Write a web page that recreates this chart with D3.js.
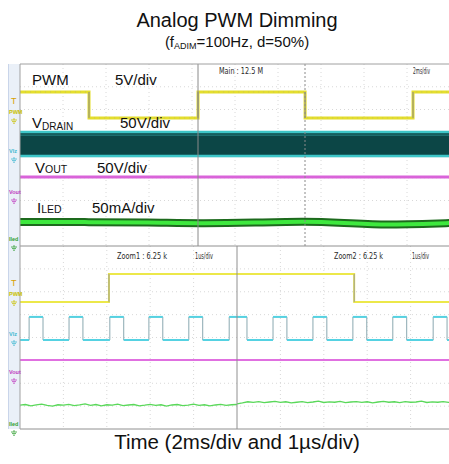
<!DOCTYPE html>
<html><head><meta charset="utf-8">
<script src="https://cdn.jsdelivr.net/npm/d3@7/dist/d3.min.js"></script>
<style>
html,body{margin:0;padding:0;background:#fff;}
svg{display:block;font-family:"Liberation Sans",Arial,sans-serif;}
</style></head>
<body>
<svg id="c" width="449" height="464"></svg>
<script>
// ---------------- DATA (values in screen divisions / ms / µs) ----------------
// Upper (main, 2 ms/div) window
const mainEdgesMs = [3.21, 8.28, 13.26, 18.28];       // PWM edges, starts high
const mainPwmLevels = [2.77, 1.63];                   // high, low (div)
const mainVdrainEnvelope = [1.05, -0.09];             // top, bottom of switching band (div)
const mainVout = -0.97;                               // div
const mainIledT = [0, 3, 6.05, 8.37, 11, 13.26, 15, 17.2, 18.8, 20];
const mainIledV = [-2.94, -2.95, -2.96, -3.01, -2.97, -2.92, -2.98, -3.08, -3.04, -2.99];

// Lower zoom windows (1 µs/div)
const zoom1PwmEdgeUs = 2.05;   // rising
const zoom2PwmEdgeUs = 2.70;   // falling
const zoomPwmLevels = [2.78, 1.55];  // high, low (div)
const zoom1DrainRise = [0.21, 1.13, 2.07, 2.97, 3.89, 4.82];
const zoom2DrainRise = [-0.09, 0.83, 1.75, 2.67, 3.59, 4.52];
const drainOnUs = 0.32;
const zoomDrainLevels = [0.9, -0.11];  // high, low (div)
const zoomVout = -0.98;
const zoom1Iled = [-2.96,-2.93,-2.99,-2.95,-2.91,-2.97,-3.0,-2.94,-2.96,-2.92,-2.98,-2.95,-2.9,-2.97,-2.93,-2.99,-2.94,-2.96,-2.91,-2.98,-2.95,-2.93,-2.99,-2.96,-2.92,-2.97,-2.94,-3.0,-2.95,-2.93,-2.98,-2.96,-2.91,-2.97,-2.94,-2.99,-2.95,-2.92,-2.97,-2.94,-2.93];
const zoom2Iled = [-2.9,-2.86,-2.81,-2.84,-2.8,-2.85,-2.82,-2.79,-2.84,-2.81,-2.86,-2.83,-2.8,-2.85,-2.82,-2.78,-2.84,-2.81,-2.83,-2.79,-2.85,-2.82,-2.8,-2.84,-2.81,-2.86,-2.82,-2.79,-2.83,-2.81,-2.85,-2.8,-2.83,-2.82,-2.78,-2.84,-2.81,-2.83,-2.8,-2.84,-2.82];

const titleText = "Analog PWM Dimming";
const xAxisTitle = "Time (2ms/div and 1µs/div)";

// ---------------- LAYOUT ----------------
const svg = d3.select("#c");
const L = 20, R = 450, T = 64, MID = 246, B = 429, ZSPLIT = 237;

const xMain = d3.scaleLinear().domain([0, 20]).range([L, R]);
const yUp = d3.scaleLinear().domain([-4, 4]).range([MID, T]);
const xZ1 = d3.scaleLinear().domain([0, 5]).range([L, ZSPLIT]);
const xZ2 = d3.scaleLinear().domain([0, 5]).range([ZSPLIT, 454]);
const yLo = d3.scaleLinear().domain([-4, 4]).range([B, MID]);

// left strip
svg.append("rect").attr("x", 8).attr("y", T).attr("width", 12).attr("height", B - T).attr("fill", "#eaf0f8");
svg.append("line").attr("x1", 8.5).attr("x2", 8.5).attr("y1", T).attr("y2", B).attr("stroke", "#c9d5ea");

// grids
const gGrid = svg.append("g").attr("stroke", "#d8d8d8").attr("stroke-dasharray", "1,3").attr("stroke-width", 1);
d3.range(1, 10).forEach(i => {
  const x = xMain(i * 2);
  gGrid.append("line").attr("x1", x).attr("x2", x).attr("y1", T).attr("y2", MID);
});
d3.range(-3, 4).forEach(d => {
  gGrid.append("line").attr("x1", L).attr("x2", R).attr("y1", yUp(d)).attr("y2", yUp(d));
  gGrid.append("line").attr("x1", L).attr("x2", R).attr("y1", yLo(d)).attr("y2", yLo(d));
});
d3.range(1, 5).forEach(i => {
  [xZ1(i), xZ2(i)].forEach(x => gGrid.append("line").attr("x1", x).attr("x2", x).attr("y1", MID).attr("y2", B));
});

// ---------- upper traces ----------
// VDRAIN band
svg.append("rect").attr("x", L).attr("width", R - L)
  .attr("y", yUp(mainVdrainEnvelope[0])).attr("height", yUp(mainVdrainEnvelope[1]) - yUp(mainVdrainEnvelope[0]))
  .attr("fill", "#0c4646");
svg.append("line").attr("x1", L).attr("x2", R).attr("y1", yUp(mainVdrainEnvelope[0]) + 1).attr("y2", yUp(mainVdrainEnvelope[0]) + 1)
  .attr("stroke", "#3ec6c8").attr("stroke-width", 2.5);
svg.append("line").attr("x1", L).attr("x2", R).attr("y1", yUp(mainVdrainEnvelope[0]) + 4).attr("y2", yUp(mainVdrainEnvelope[0]) + 4)
  .attr("stroke", "#2a8888").attr("stroke-width", 1);
svg.append("line").attr("x1", L).attr("x2", R).attr("y1", yUp(mainVdrainEnvelope[1]) - 1).attr("y2", yUp(mainVdrainEnvelope[1]) - 1)
  .attr("stroke", "#3ec6c8").attr("stroke-width", 2.5);

// PWM main
(function () {
  const pts = [[0, mainPwmLevels[0]]];
  let lvl = 0;
  mainEdgesMs.forEach(t => { pts.push([t, mainPwmLevels[lvl]]); lvl = 1 - lvl; pts.push([t, mainPwmLevels[lvl]]); });
  pts.push([20, mainPwmLevels[lvl]]);
  const line = d3.line().x(d => xMain(d[0])).y(d => yUp(d[1]));
  svg.append("path").attr("d", line(pts)).attr("fill", "none").attr("stroke", "#e4de2c").attr("stroke-width", 3);
  mainEdgesMs.forEach(t => svg.append("line").attr("x1", xMain(t)).attr("x2", xMain(t))
    .attr("y1", yUp(mainPwmLevels[0])).attr("y2", yUp(mainPwmLevels[1])).attr("stroke", "#888").attr("stroke-width", 1));
  svg.append("path").attr("d", line(pts)).attr("fill", "none").attr("stroke", "#b8b070").attr("stroke-width", 1).attr("stroke-dasharray", "1,4").attr("opacity", 0.6);
})();

// VOUT main
svg.append("line").attr("x1", L).attr("x2", R).attr("y1", yUp(mainVout)).attr("y2", yUp(mainVout))
  .attr("stroke", "#d963d9").attr("stroke-width", 3);

// ILED main band
(function () {
  const data = mainIledT.map((t, i) => [t, mainIledV[i]]);
  const line = d3.line().x(d => xMain(d[0])).y(d => yUp(d[1])).curve(d3.curveBasis);
  svg.append("path").attr("d", line(data)).attr("fill", "none").attr("stroke", "#1d6a1d").attr("stroke-width", 8);
  svg.append("path").attr("d", line(data)).attr("fill", "none").attr("stroke", "#3ee83e").attr("stroke-width", 4);
})();

// zoom markers in main window
svg.append("line").attr("x1", 198).attr("x2", 198).attr("y1", T).attr("y2", MID).attr("stroke", "#8a8a8a").attr("stroke-width", 1);
svg.append("line").attr("x1", 305).attr("x2", 305).attr("y1", T).attr("y2", MID).attr("stroke", "#8a8a8a").attr("stroke-width", 1).attr("stroke-dasharray", "2,2");

// ---------- lower traces ----------
function zoomPwm(xs, startLevel, edge) {
  const pts = [[0, zoomPwmLevels[startLevel]], [edge, zoomPwmLevels[startLevel]], [edge, zoomPwmLevels[1 - startLevel]], [5, zoomPwmLevels[1 - startLevel]]];
  const line = d3.line().x(d => xs(d[0])).y(d => yLo(d[1]));
  svg.append("path").attr("d", line(pts)).attr("fill", "none").attr("stroke", "#ece84a").attr("stroke-width", 2);
  svg.append("line").attr("x1", xs(edge)).attr("x2", xs(edge)).attr("y1", yLo(zoomPwmLevels[0])).attr("y2", yLo(zoomPwmLevels[1])).attr("stroke", "#999").attr("stroke-width", 1);
}
zoomPwm(xZ1, 1, zoom1PwmEdgeUs);
zoomPwm(xZ2, 0, zoom2PwmEdgeUs);

function zoomDrain(xs, rises) {
  const hi = zoomDrainLevels[0], lo = zoomDrainLevels[1];
  const pts = [];
  let t0 = 0;
  rises.forEach(r => {
    const a = Math.max(0, r), b = Math.min(5, r + drainOnUs);
    if (a > t0) pts.push([t0, lo], [a, lo]);
    pts.push([a, hi], [b, hi]);
    if (b < 5) pts.push([b, lo]);
    t0 = b;
  });
  if (t0 < 5) pts.push([t0, lo], [5, lo]);
  const line = d3.line().x(d => xs(d[0])).y(d => yLo(d[1]));
  svg.append("path").attr("d", line(pts)).attr("fill", "none").attr("stroke", "#8aa8b0").attr("stroke-width", 1);
  for (let i = 0; i < pts.length - 1; i++) {
    if (pts[i][1] === pts[i + 1][1] && pts[i + 1][0] > pts[i][0]) {
      svg.append("line").attr("x1", xs(pts[i][0])).attr("x2", xs(pts[i + 1][0]))
        .attr("y1", yLo(pts[i][1])).attr("y2", yLo(pts[i][1])).attr("stroke", "#55d2e2").attr("stroke-width", 2);
    }
  }
}
zoomDrain(xZ1, zoom1DrainRise);
zoomDrain(xZ2, zoom2DrainRise);

[xZ1, xZ2].forEach(xs => svg.append("line").attr("x1", xs(0)).attr("x2", xs(5)).attr("y1", yLo(zoomVout)).attr("y2", yLo(zoomVout))
  .attr("stroke", "#e070e0").attr("stroke-width", 2));

function zoomIled(xs, vals) {
  const line = d3.line().x((d, i) => xs(i * 5 / (vals.length - 1))).y(d => yLo(d));
  svg.append("path").attr("d", line(vals)).attr("fill", "none").attr("stroke", "#5ad85a").attr("stroke-width", 1.3);
}
zoomIled(xZ1, zoom1Iled);
zoomIled(xZ2, zoom2Iled);

// ---------- frame ----------
svg.append("line").attr("x1", L).attr("x2", 449).attr("y1", T).attr("y2", T).attr("stroke", "#a0a0a0");
svg.append("line").attr("x1", L).attr("x2", 449).attr("y1", MID).attr("y2", MID).attr("stroke", "#909090");
svg.append("line").attr("x1", L).attr("x2", 449).attr("y1", B).attr("y2", B).attr("stroke", "#909090");
svg.append("line").attr("x1", L).attr("x2", L).attr("y1", T).attr("y2", B).attr("stroke", "#a0a0a0");
svg.append("line").attr("x1", ZSPLIT).attr("x2", ZSPLIT).attr("y1", MID).attr("y2", B).attr("stroke", "#909090");

// ---------- scope status text ----------
const small = svg.append("g").attr("font-family", "'Liberation Sans Narrow','DejaVu Sans Condensed',sans-serif")
  .attr("font-size", 9.5).attr("fill", "#2a2a2a");
[["Main : 12.5 M", 219, 74, 44], ["2ms/div", 413, 74, 17], ["Zoom1 : 6.25 k", 117, 259, 50], ["1us/div", 195, 259, 18],
 ["Zoom2 : 6.25 k", 334, 259, 49], ["1us/div", 412, 259, 17]].forEach(d => {
  small.append("text").attr("x", d[1]).attr("y", d[2]).attr("textLength", d[3]).attr("lengthAdjust", "spacingAndGlyphs").text(d[0]);
});

// ---------- left strip channel markers ----------
function marker(y, label, color, withT) {
  const g = svg.append("g");
  if (withT) g.append("text").attr("x", 11).attr("y", y - 10).attr("font-size", 9).attr("fill", "#d8a000").text("T");
  g.append("text").attr("x", 9).attr("y", y).attr("font-size", 5.5).attr("font-weight", "bold").attr("fill", color).text(label);
  const gy = y + 4;
  g.append("line").attr("x1", 14).attr("x2", 14).attr("y1", gy).attr("y2", gy + 2).attr("stroke", color).attr("stroke-width", 0.8);
  [[11, 17], [12, 16], [13, 15]].forEach((p, i) => g.append("line").attr("x1", p[0]).attr("x2", p[1])
    .attr("y1", gy + 2 + i * 1.6).attr("y2", gy + 2 + i * 1.6).attr("stroke", color).attr("stroke-width", 0.8));
}
marker(114, "PWM", "#c8c000", true);
marker(153, "Vlz", "#40b8d0", false);
marker(194, "Vout", "#c040c0", false);
marker(241, "Iled", "#30a030", false);
marker(296, "PWM", "#c8c000", true);
marker(336, "Vlz", "#40b8d0", false);
marker(374, "Vout", "#c040c0", false);
marker(426, "Iled", "#30a030", false);

// ---------- channel annotations ----------
const ann = svg.append("g").attr("fill", "#111").attr("font-size", 15);
ann.append("text").attr("x", 32).attr("y", 85).text("PWM");
ann.append("text").attr("x", 115).attr("y", 85).text("5V/div");
const vd = ann.append("text").attr("x", 32).attr("y", 128);
vd.append("tspan").text("V");
vd.append("tspan").attr("font-size", 10).attr("dy", 1.5).text("DRAIN");
ann.append("text").attr("x", 120).attr("y", 128).text("50V/div");
const vo = ann.append("text").attr("x", 35).attr("y", 173);
vo.append("tspan").text("V");
vo.append("tspan").attr("font-size", 10.5).text("OUT");
ann.append("text").attr("x", 97).attr("y", 173).text("50V/div");
const il = ann.append("text").attr("x", 37).attr("y", 213);
il.append("tspan").text("I");
il.append("tspan").attr("font-size", 10.5).text("LED");
ann.append("text").attr("x", 92).attr("y", 213).text("50mA/div");

// ---------- titles ----------
svg.append("text").attr("x", 237).attr("y", 27).attr("text-anchor", "middle").attr("font-size", 20).attr("fill", "#111").text(titleText);
const sub = svg.append("text").attr("x", 237).attr("y", 47).attr("text-anchor", "middle").attr("font-size", 15).attr("fill", "#111");
sub.append("tspan").text("(f");
sub.append("tspan").attr("font-size", 9).attr("dy", 2).text("ADIM");
sub.append("tspan").attr("dy", -2).text("=100Hz, d=50%)");
svg.append("text").attr("x", 237).attr("y", 449).attr("text-anchor", "middle").attr("font-size", 20.5).attr("fill", "#111").text(xAxisTitle);
</script>
</body></html>
